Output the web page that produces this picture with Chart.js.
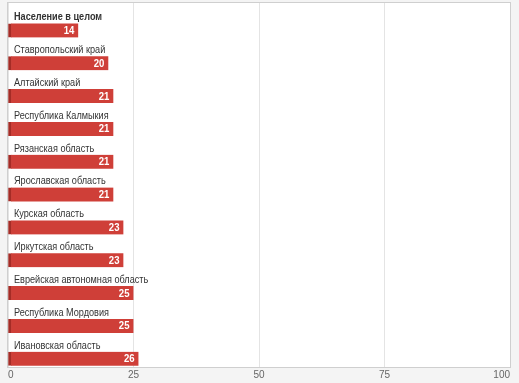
<!DOCTYPE html>
<html>
<head>
<meta charset="utf-8">
<script src="https://cdn.jsdelivr.net/npm/chart.js@4"></script>
<style>
  html, body { margin: 0; padding: 0; background: #f4f4f4; }
  #wrap { width: 519px; height: 383px; }
</style>
</head>
<body>
<div id="wrap"><canvas id="myChart" width="519" height="383"></canvas></div>
<script>
var regions = [
    'Население в целом',
    'Ставропольский край',
    'Алтайский край',
    'Республика Калмыкия',
    'Рязанская область',
    'Ярославская область',
    'Курская область',
    'Иркутская область',
    'Еврейская автономная область',
    'Республика Мордовия',
    'Ивановская область'
];
var values = [14, 20, 21, 21, 21, 21, 23, 23, 25, 25, 26];
var xTicks = [0, 25, 50, 75, 100];

var points = [];
for (var i = 0; i < values.length; i++) {
    points.push({ x: values[i], y: i });
}

// white plot background + frame
var framePlugin = {
    id: 'frame',
    beforeDraw: function (c) {
        var a = c.chartArea, ctx = c.ctx;
        ctx.save();
        ctx.fillStyle = '#ffffff';
        ctx.fillRect(a.left, a.top, a.right - a.left, a.bottom - a.top);
        ctx.restore();
    },
    afterDraw: function (c) {
        var a = c.chartArea, ctx = c.ctx;
        ctx.save();
        ctx.strokeStyle = '#cfcfcf';
        ctx.lineWidth = 1;
        ctx.strokeRect(a.left - 0.5, a.top - 0.5, a.right - a.left + 1, a.bottom - a.top + 1);
        ctx.restore();
    }
};

// narrow-ish text like the original
function squeezedText(ctx, text, x, y) {
    ctx.save();
    ctx.translate(x, y);
    ctx.scale(0.87, 1);
    ctx.fillText(text, 0, 0);
    ctx.restore();
}

// region names above bars, values inside bar ends
var labelPlugin = {
    id: 'labels',
    afterDatasetsDraw: function (c) {
        var ctx = c.ctx;
        var meta = c.getDatasetMeta(0);
        ctx.save();
        meta.data.forEach(function (bar, i) {
            ctx.textBaseline = 'middle';
            ctx.textAlign = 'left';
            ctx.fillStyle = '#333333';
            ctx.font = (i === 0 ? 'bold ' : '') + '10.5px "Liberation Sans", Arial, sans-serif';
            squeezedText(ctx, regions[i], 14, bar.y - 13);
            ctx.textAlign = 'right';
            ctx.fillStyle = '#ffffff';
            ctx.font = 'bold 11px "Liberation Sans", Arial, sans-serif';
            squeezedText(ctx, String(values[i]), bar.x - 4, bar.y + 0.5);
        });
        ctx.restore();
    }
};

var chart = new Chart(document.getElementById('myChart'), {
    type: 'bar',
    data: {
        datasets: [{
            data: points,
            backgroundColor: '#cf3f38',
            borderColor: '#a52c26',
            borderWidth: { left: 3, top: 0, right: 0, bottom: 0 },
            borderSkipped: false,
            barThickness: 14
        }]
    },
    options: {
        indexAxis: 'y',
        responsive: false,
        animation: false,
        layout: { padding: { left: 8, right: 9, top: 3, bottom: 0 } },
        plugins: {
            legend: { display: false },
            tooltip: { enabled: false }
        },
        scales: {
            x: {
                type: 'linear',
                min: 0,
                max: 100,
                afterBuildTicks: function (axis) {
                    axis.ticks = xTicks.map(function (v) { return { value: v }; });
                },
                grid: { color: '#e4e4e4', drawTicks: false },
                border: { display: false },
                ticks: {
                    align: 'inner',
                    padding: 2,
                    color: '#666666',
                    font: { family: '"Liberation Sans", Arial, sans-serif', size: 10 }
                }
            },
            y: {
                type: 'linear',
                reverse: true,
                offset: false,
                min: -0.834,
                max: 10.25,
                display: false
            }
        }
    },
    plugins: [framePlugin, labelPlugin]
});
</script>
</body>
</html>
